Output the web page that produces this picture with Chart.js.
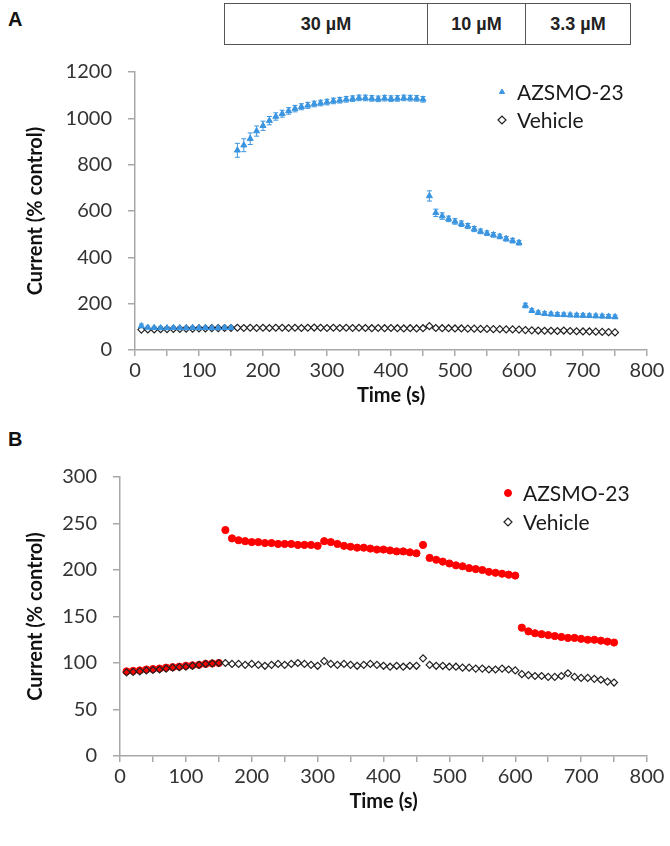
<!DOCTYPE html>
<html>
<head>
<meta charset="utf-8">
<script src="https://cdn.jsdelivr.net/npm/chart.js@4/dist/chart.umd.min.js"></script>
<style>
  body { margin: 0; background: #fff; width: 670px; height: 846px; position: relative; overflow: hidden; font-family: "Liberation Sans", Arial, sans-serif; }
  .panel { position: absolute; left: 8px; font-weight: bold; font-size: 20px; color: #111; }
  #conc { position: absolute; left: 224px; top: 3px; height: 40px; display: flex; border: 1.5px solid #555; }
  #conc div { display: flex; align-items: center; justify-content: center; font-weight: bold; font-size: 18px; color: #222; }
  #conc div + div { border-left: 1.5px solid #555; }
  .wrap { position: absolute; left: 0; }
</style>
</head>
<body>
<div class="panel" style="top:8px">A</div>
<div id="conc">
  <div style="width:202px">30 µM</div>
  <div style="width:97px">10 µM</div>
  <div style="width:104px">3.3 µM</div>
</div>
<div class="wrap" style="top:50px"><canvas id="chartA" width="670" height="360"></canvas></div>
<div class="panel" style="top:428px">B</div>
<div class="wrap" style="top:430px"><canvas id="chartB" width="670" height="386"></canvas></div>
<script>
// sample times (s)
const times = [
  10, 20, 30, 40, 50, 60, 70, 80, 90, 100, 110, 120, 130, 140, 150,
  160, 170, 180, 190, 200, 210, 220, 230, 240, 250, 260, 270, 280, 290, 300,
  310, 320, 330, 340, 350, 360, 370, 380, 390, 400, 410, 420, 430, 440, 450,
  460, 470, 480, 490, 500, 510, 520, 530, 540, 550, 560, 570, 580, 590, 600,
  610, 620, 630, 640, 650, 660, 670, 680, 690, 700, 710, 720, 730, 740, 750
];

// panel A: AZSMO-23 (mean, error) and vehicle
const azsmoA = [
  104, 97, 96, 95, 95, 96, 95, 95, 96, 95, 96, 95, 95, 96, 96,
  862, 884, 912, 945, 968, 990, 1008, 1020, 1032, 1042, 1050, 1056, 1062, 1066, 1070,
  1075, 1078, 1082, 1085, 1088, 1088, 1086, 1084, 1087, 1085, 1086, 1088, 1087, 1086, 1082,
  665, 592, 578, 566, 555, 545, 535, 522, 512, 504, 497, 490, 480, 472, 463,
  192, 170, 161, 157, 155, 153, 152, 151, 150, 149, 148, 147, 146, 145, 143
];
const azsmoAErr = [
  8, 6, 6, 6, 6, 6, 6, 6, 6, 6, 6, 6, 6, 6, 6,
  30, 28, 25, 22, 20, 18, 16, 15, 14, 14, 13, 13, 12, 12, 12,
  12, 12, 12, 12, 12, 12, 12, 12, 12, 12, 12, 12, 12, 12, 12,
  22, 16, 14, 12, 12, 12, 11, 11, 10, 10, 10, 10, 10, 10, 10,
  10, 8, 8, 8, 8, 8, 8, 8, 8, 8, 8, 8, 8, 8, 8
];
const vehicleA = [
  88, 89, 89, 90, 90, 91, 91, 92, 92, 93, 93, 94, 94, 95, 95,
  96, 95, 96, 95, 96, 95, 96, 96, 95, 96, 95, 96, 97, 96, 95,
  96, 95, 96, 95, 96, 95, 94, 95, 94, 95, 94, 93, 94, 93, 94,
  103, 95, 94, 94, 93, 93, 92, 92, 91, 91, 90, 90, 89, 89, 88,
  86, 85, 84, 83, 83, 82, 84, 82, 81, 80, 80, 79, 78, 77, 76
];

// panel B
const azsmoB = [
  91, 91.5, 92, 93, 93.5, 94, 95, 95.5, 96, 97, 97.5, 98, 99, 99.5, 100,
  243, 234, 232, 231, 230, 230, 229, 229, 228, 228, 228, 227, 227, 227, 226,
  231, 230, 228, 226, 225, 224, 224, 223, 222, 222, 221, 220, 220, 219, 218,
  227, 213, 211, 209, 207, 205, 204, 202, 201, 200, 198, 197, 196, 195, 194,
  138, 134, 132, 131, 130, 129, 128, 127, 127, 126, 125, 125, 124, 123, 122
];
const vehicleB = [
  90, 90.5, 91, 92, 92.5, 93, 94, 95, 95.5, 96, 97, 98, 99, 99.5, 100,
  100, 99, 99, 98, 99, 98, 97, 98, 99, 98, 99, 100, 99, 98, 97,
  102, 99, 98, 99, 98, 97, 98, 99, 98, 97, 96, 97, 96, 97, 97,
  105, 98, 97, 97, 96, 96, 95, 95, 94, 94, 93, 93, 94, 93, 92,
  88, 87, 86, 86, 85, 85, 86, 89, 85, 84, 84, 83, 82, 80, 79
];

const yTicksA = { min: 0, max: 1200, step: 200 };
const yTicksB = { min: 0, max: 300, step: 50 };
const xLabels = { min: 0, max: 800, step: 50, labelEvery: 100 };

const blue = "#3b95e0";
const red = "#ff0000";
const axisGray = "#a8a8a8";
const textColor = "#333333";

Chart.defaults.font.family = "Lato, 'Open Sans', sans-serif";
Chart.defaults.color = textColor;

const pts = (ys) => times.map((t, i) => ({ x: t, y: ys[i] }));

const errorBars = {
  id: "errorBars",
  afterDatasetsDraw(chart) {
    const { ctx, scales } = chart;
    chart.data.datasets.forEach((ds) => {
      if (!ds.errors) return;
      ctx.save();
      ctx.strokeStyle = ds.borderColor;
      ctx.lineWidth = 1;
      ds.data.forEach((p, i) => {
        const x = scales.x.getPixelForValue(p.x);
        const top = scales.y.getPixelForValue(p.y + ds.errors[i]);
        const bot = scales.y.getPixelForValue(p.y - ds.errors[i]);
        ctx.beginPath();
        ctx.moveTo(x, top); ctx.lineTo(x, bot);
        ctx.moveTo(x - 2.5, top); ctx.lineTo(x + 2.5, top);
        ctx.moveTo(x - 2.5, bot); ctx.lineTo(x + 2.5, bot);
        ctx.stroke();
      });
      ctx.restore();
    });
  }
};

const sideLegend = {
  id: "sideLegend",
  afterDraw(chart, args, opts) {
    const { ctx } = chart;
    ctx.save();
    ctx.font = "21px Lato, 'Open Sans', sans-serif";
    ctx.textBaseline = "middle";
    chart.data.datasets.forEach((ds, i) => {
      const y = opts.y + i * opts.gap;
      ctx.fillStyle = ds.backgroundColor;
      ctx.strokeStyle = ds.borderColor;
      ctx.lineWidth = ds.borderWidth;
      Chart.helpers.drawPoint(ctx, { pointStyle: ds.pointStyle, radius: ds.legendRadius, borderWidth: ds.borderWidth }, opts.x, y);
      ctx.fillStyle = "#1a1a1a";
      ctx.fillText(ds.label, opts.x + 15, y + 1);
    });
    ctx.restore();
  }
};

function makeChart(id, datasets, yT, yTitlePad, topPad, yWidth, legendPos) {
  return new Chart(document.getElementById(id), {
    type: "scatter",
    data: { datasets },
    plugins: [errorBars, sideLegend],
    options: {
      responsive: false,
      animation: false,
      events: [],
      layout: { padding: { top: topPad, right: 23, left: 0, bottom: 0 } },
      plugins: {
        legend: { display: false },
        tooltip: { enabled: false },
        sideLegend: legendPos
      },
      scales: {
        x: {
          type: "linear",
          min: xLabels.min,
          max: xLabels.max,
          afterFit: (s) => { s.height = 60; },
          ticks: {
            stepSize: xLabels.step,
            autoSkip: false,
            maxRotation: 0,
            padding: 3,
            font: { size: 20 },
            callback: (v) => (v % xLabels.labelEvery === 0 ? String(v) : "")
          },
          grid: { drawOnChartArea: false, tickLength: 6, color: axisGray, lineWidth: 1.5 },
          border: { color: axisGray, width: 1.5 },
          title: { display: true, text: "Time (s)", font: { size: 20, weight: "bold" }, color: "#111", padding: { top: 0, bottom: 2 } }
        },
        y: {
          min: yT.min,
          max: yT.max,
          afterFit: (s) => { s.width = yWidth; s.paddingTop = 0; s.paddingBottom = 0; },
          ticks: { stepSize: yT.step, padding: 16, font: { size: 20 }, callback: (v) => String(v) },
          grid: { drawOnChartArea: false, tickLength: 7, color: axisGray, lineWidth: 1.5 },
          border: { color: axisGray, width: 1.5 },
          title: { display: true, text: "Current (% control)", font: { size: 20, weight: "bold" }, color: "#111", padding: { top: yTitlePad, bottom: 0 } }
        }
      }
    }
  });
}

makeChart("chartA", [
  {
    label: "AZSMO-23",
    data: pts(azsmoA),
    errors: azsmoAErr,
    pointStyle: "triangle",
    pointRadius: 3.5,
    legendRadius: 3,
    backgroundColor: blue,
    borderColor: blue,
    borderWidth: 1,
    order: 0
  },
  {
    label: "Vehicle",
    data: pts(vehicleA),
    pointStyle: "rectRot",
    pointRadius: 3.5,
    legendRadius: 4,
    backgroundColor: "#ffffff",
    borderColor: "#222222",
    borderWidth: 1.2,
    order: 1
  }
], yTicksA, 24, 22, 135, { x: 502, y: 42, gap: 28 });

makeChart("chartB", [
  {
    label: "AZSMO-23",
    data: pts(azsmoB),
    pointStyle: "circle",
    pointRadius: 3.6,
    legendRadius: 3.5,
    backgroundColor: red,
    borderColor: red,
    borderWidth: 1,
    order: 1
  },
  {
    label: "Vehicle",
    data: pts(vehicleB),
    pointStyle: "rectRot",
    pointRadius: 3.5,
    legendRadius: 4,
    backgroundColor: "rgba(255,255,255,0)",
    borderColor: "#222222",
    borderWidth: 1.2,
    order: 0
  }
], yTicksB, 24, 47, 120, { x: 508, y: 63, gap: 29 });
</script>
</body>
</html>
